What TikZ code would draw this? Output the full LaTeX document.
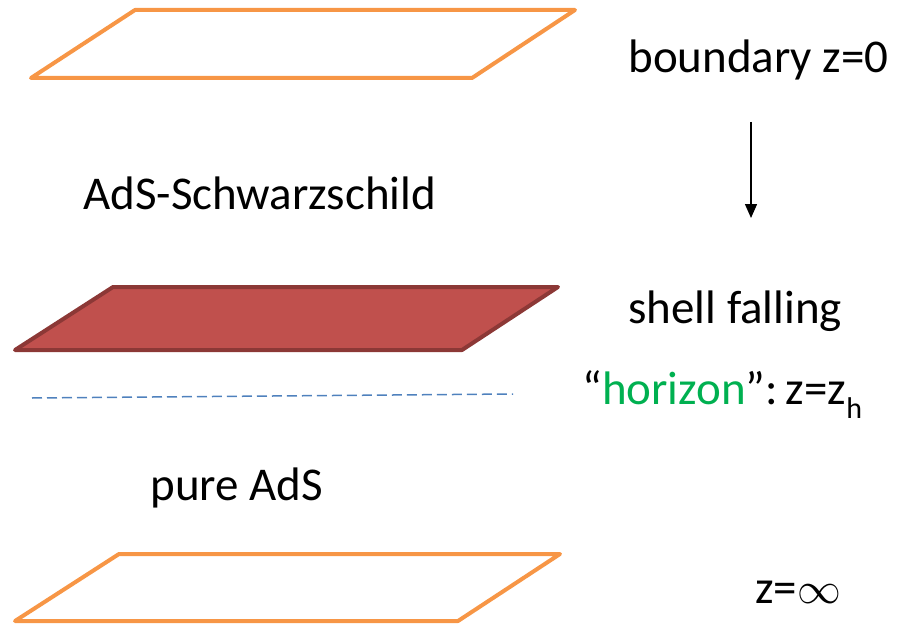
\documentclass[tikz,border=0pt]{standalone}
\usepackage{fontspec}
\setmainfont{Carlito}
\usetikzlibrary{positioning, arrows.meta}
\definecolor{planeorange}{HTML}{F79646}
\definecolor{shellred}{HTML}{C0504D}
\definecolor{shelldark}{HTML}{8C3836}
\definecolor{horizonblue}{HTML}{4F81BD}
\definecolor{horizongreen}{HTML}{00B050}
\tikzset{
    plane/.style={draw=planeorange, line width=2pt, line join=round, line cap=round},
    shell/.style={draw=shelldark, fill=shellred, line width=2pt, line join=round, line cap=round},
    horizon/.style={draw=horizonblue, line width=0.75pt, dash pattern=on 5pt off 2.5pt},
    tag/.style={anchor=base west, inner sep=0pt, font=\fontsize{23.5}{28}\selectfont},
    fall/.style={-{Triangle[length=7pt, width=6pt]}, line width=0.7pt},
}
\begin{document}
\begin{tikzpicture}[x=0.5pt, y=-0.5pt]
    \useasboundingbox (0,0) rectangle (910,626);
    % planes
    \draw [plane] (135,10) -- (575,10) -- (472,78) -- (31,78) -- cycle;
    \draw [shell] (113,287) -- (558,287) -- (462,350) -- (15,350) -- cycle;
    \draw [plane] (119,554) -- (560,554) -- (458,621) -- (15,621) -- cycle;
    % horizon
    \coordinate (hl) at (32,398);
    \coordinate (hr) at (513,394);
    \draw [horizon] (hl) -- (hr);
    % labels
    \node [tag] (bdry) at (628,73) {boundary z=0};
    \node [tag] (ads) at (83,209) {AdS-Schwarzschild};
    \node [tag] (shell) at (628,323) {shell falling};
    \node [tag] (hor) at (582,404) {“\textcolor{horizongreen}{horizon}”:\,z=z\raisebox{-0.3em}{\fontsize{15}{15}\selectfont h}};
    \node [tag] (pure) at (150,500) {pure AdS};
    \node [tag] (inf) at (755,603) {z=\scalebox{0.88}{$\infty$}};
    % arrow
    \coordinate (top) at (751,122);
    \coordinate (bot) at (751,218);
    \draw [fall] (top) -- (bot);
\end{tikzpicture}
\end{document}
